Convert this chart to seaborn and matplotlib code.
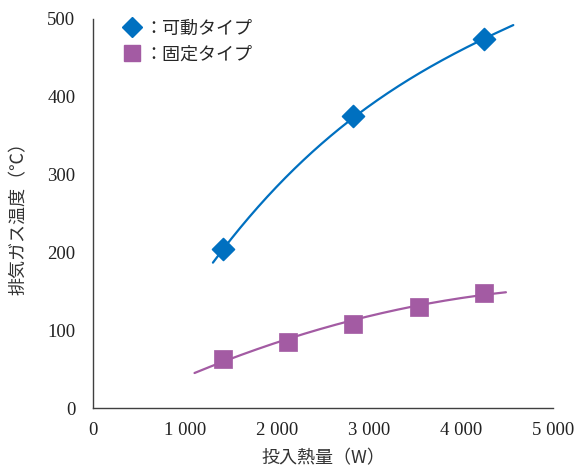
import numpy as np
import pandas as pd
import seaborn as sns
import matplotlib
matplotlib.use("Agg")
import matplotlib.pyplot as plt
from matplotlib.lines import Line2D

# Measured exhaust gas temperature vs. heat input
movable_heat = [1414, 2828, 4243]
movable_temp = [204.5, 375.6, 473.7]

fixed_heat = [1414, 2121, 2828, 3536, 4243]
fixed_temp = [62.9, 85.5, 107.8, 129.7, 147.6]

# Trend curve readings for each type
movable_trend_heat = [1300, 2250, 2830, 3480, 4240, 4565]
movable_trend_temp = [187.4, 313.0, 376.0, 425.3, 473.0, 493.0]

fixed_trend_heat = [1100, 1414, 2120, 2830, 3530, 4250, 4485]
fixed_trend_temp = [46.2, 59.3, 88.5, 114.0, 132.7, 145.5, 148.9]

x_ticks = [0, 1000, 2000, 3000, 4000, 5000]
x_tick_labels = ["0", "1 000", "2 000", "3 000", "4 000", "5 000"]
y_ticks = [0, 100, 200, 300, 400, 500]

labels = ["：可動タイプ", "：固定タイプ"]
x_label = "投入熱量（W）"
y_label = "排気ガス温度（℃）"

BLUE = "#0070C0"
PURPLE = "#A35BA3"
INK = "#404040"

sns.set_theme(style="white")
plt.rcParams["font.family"] = ["Liberation Serif", "Noto Sans CJK JP", "DejaVu Sans"]

fig = plt.figure(figsize=(5.75, 4.71), dpi=100)
ax = fig.add_axes([0.1623, 0.1331, 0.80, 0.8266])


def smooth_trend(xs, ys, order):
    coef = np.polyfit(xs, ys, order)
    grid = np.linspace(min(xs), max(xs), 200)
    return pd.DataFrame({"heat": grid, "temp": np.polyval(coef, grid)})


trend_m = smooth_trend(movable_trend_heat, movable_trend_temp, 3)
trend_f = smooth_trend(fixed_trend_heat, fixed_trend_temp, 2)

sns.lineplot(data=trend_m, x="heat", y="temp", color=BLUE, lw=1.6, ax=ax)
sns.lineplot(data=trend_f, x="heat", y="temp", color=PURPLE, lw=1.6, ax=ax)

pts_m = pd.DataFrame({"heat": movable_heat, "temp": movable_temp})
pts_f = pd.DataFrame({"heat": fixed_heat, "temp": fixed_temp})
sns.scatterplot(data=pts_m, x="heat", y="temp", marker="D", s=125, color=BLUE,
                edgecolor=BLUE, linewidth=1.2, ax=ax, zorder=5)
sns.scatterplot(data=pts_f, x="heat", y="temp", marker="s", s=150, color=PURPLE,
                edgecolor=PURPLE, linewidth=0.5, ax=ax, zorder=5)

ax.set_xlim(0, 5000)
ax.set_ylim(0, 500)
ax.set_xticks(x_ticks)
ax.set_xticklabels(x_tick_labels)
ax.set_yticks(y_ticks)

for side in ["top", "right"]:
    ax.spines[side].set_visible(False)
for side in ["left", "bottom"]:
    ax.spines[side].set_color(INK)
    ax.spines[side].set_linewidth(1.0)

ax.tick_params(axis="both", direction="in", length=6, width=1.0, color=INK,
               labelsize=13.5, labelcolor="#222222")
ax.tick_params(axis="y", pad=13)
ax.tick_params(axis="x", pad=10)

ax.set_xlabel(x_label, fontsize=13, color="#333333", labelpad=7,
              family=["Noto Sans CJK JP", "DejaVu Sans"])
ax.set_ylabel(y_label, fontsize=13, color="#333333", labelpad=14,
              family=["Noto Sans CJK JP", "DejaVu Sans"])

handles = [
    Line2D([], [], marker="D", ls="none", color=BLUE, markersize=10),
    Line2D([], [], marker="s", ls="none", color=PURPLE, markersize=11),
]
ax.legend(handles, labels, loc="upper left", bbox_to_anchor=(0.03, 1.04),
          frameon=False, handlelength=1.0, handletextpad=0.15, labelspacing=0.45,
          prop={"family": ["Noto Sans CJK JP", "DejaVu Sans"], "size": 13})

fig.savefig("out.png", dpi=100)
